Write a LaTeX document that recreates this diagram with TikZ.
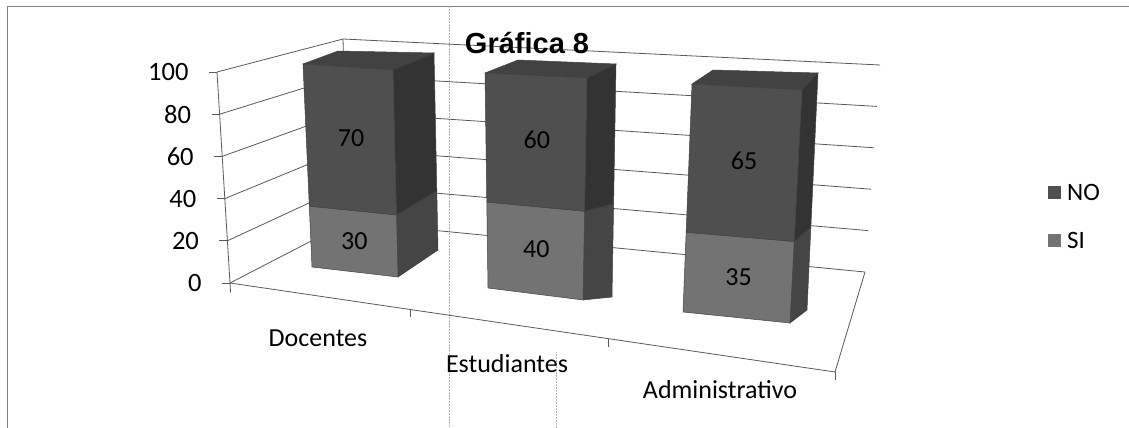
\documentclass[tikz,border=0pt]{standalone}
\usepackage{fontspec}
\setmainfont{Carlito}
\newfontfamily\titlefont{Liberation Sans}
\usetikzlibrary{calc}

\definecolor{nofront}{gray}{0.31}
\definecolor{noside}{gray}{0.20}
\definecolor{notop}{gray}{0.26}
\definecolor{sifront}{gray}{0.45}
\definecolor{siside}{gray}{0.27}
\definecolor{gridgray}{gray}{0.35}

\begin{document}
\begin{tikzpicture}[x=1pt, y=-1pt,
    wall/.style={draw=gridgray, line width=0.8pt},
    face/.style={draw=black!75, line width=0.5pt},
    ylab/.style={anchor=east, font=\fontsize{26.5}{30}\selectfont},
    catlab/.style={font=\fontsize{26}{30}\selectfont},
    datalab/.style={font=\fontsize{26}{28}\selectfont},
    leglab/.style={anchor=west, font=\fontsize{25}{28}\selectfont},
    legbox/.style={fill=#1, minimum size=13pt, inner sep=0pt}]
  \useasboundingbox (0,0) rectangle (1129,428);
  % frame and scan marks
  \draw[black!50, line width=0.8pt] (7,428) -- (7,6) -- (1129,6);
  \draw[black!30, densely dotted, line width=0.5pt] (449,6) -- (449,428);
  \draw[black!30, densely dotted, line width=0.5pt] (556,352) -- (556,428);
  % walls and floor
  \coordinate (flt) at (217,72);
  \coordinate (flb) at (230,283);
  \coordinate (blt) at (343,39);
  \coordinate (blb) at (348,222);
  \coordinate (brt) at (880,65);
  \coordinate (brb) at (865,272);
  \coordinate (frb) at (835,372);
  \draw[wall] (blb) -- (blt);
  \foreach \v/\t in {0/0, 0.2/20, 0.4/40, 0.6/60, 0.8/80, 1/100} {
    \draw[wall] ($(flb)!\v!(flt)$) -- ($(blb)!\v!(blt)$) -- ($(brb)!\v!(brt)$);
    \draw[wall] ($(flb)!\v!(flt)$) -- ++(-8,0);
    \node[ylab] (y\t) at ($(flb)!\v!(flt)+(-25,0)$) {\t};
  }
  \draw[wall] (flt) -- ($(flb)!-0.045!(flt)$);
  \draw[wall] (flb) -- (frb) -- (brb);
  \draw[wall] ($(flb)!0.2975!(frb)$) -- ++(0,8);
  \draw[wall] ($(flb)!0.626!(frb)$) -- ++(0,8);
  \draw[wall] (frb) -- ++(0,8);
  % bars
  \coordinate (b1-tl) at (303,64);
  \coordinate (b1-tr) at (393,70);
  \coordinate (b1-br) at (398,277);
  \coordinate (b1-bl) at (312,267);
  \coordinate (b1-btl) at (338,51);
  \coordinate (b1-btr) at (434,53);
  \coordinate (b1-bbr) at (438,250);
  \coordinate (b2-tl) at (485,73);
  \coordinate (b2-tr) at (587,78);
  \coordinate (b2-br) at (583,300);
  \coordinate (b2-bl) at (488,288);
  \coordinate (b2-btl) at (518,60);
  \coordinate (b2-btr) at (616,64);
  \coordinate (b2-bbr) at (612,297);
  \coordinate (b3-tl) at (692,84);
  \coordinate (b3-tr) at (802,90);
  \coordinate (b3-br) at (790,323);
  \coordinate (b3-bl) at (683,312);
  \coordinate (b3-btl) at (713,70);
  \coordinate (b3-btr) at (818,73);
  \coordinate (b3-bbr) at (807,310);
  \foreach \b/\s/\si/\no in {b1/0.30/30/70, b2/0.40/40/60, b3/0.35/35/65} {
    \coordinate (\b-ml) at ($(\b-bl)!\s!(\b-tl)$);
    \coordinate (\b-mr) at ($(\b-br)!\s!(\b-tr)$);
    \coordinate (\b-mbr) at ($(\b-bbr)!\s!(\b-btr)$);
    \filldraw[face, fill=notop] (\b-tl) -- (\b-tr) -- (\b-btr) -- (\b-btl) -- cycle;
    \filldraw[face, fill=siside] (\b-br) -- (\b-mr) -- (\b-mbr) -- (\b-bbr) -- cycle;
    \filldraw[face, fill=noside] (\b-mr) -- (\b-tr) -- (\b-btr) -- (\b-mbr) -- cycle;
    \filldraw[face, fill=sifront] (\b-bl) -- (\b-br) -- (\b-mr) -- (\b-ml) -- cycle;
    \filldraw[face, fill=nofront] (\b-ml) -- (\b-mr) -- (\b-tr) -- (\b-tl) -- cycle;
    \node[datalab] (\b-si) at ($(\b-bl)!0.5!(\b-mr)$) {\si};
    \node[datalab] (\b-no) at ($(\b-ml)!0.5!(\b-tr)$) {\no};
  }
  % categories
  \node[catlab] (docentes) at (318,338) {Docentes};
  \node[catlab] (estudiantes) at (507,364) {Estudiantes};
  \node[catlab] (administrativo) at (720,390) {Administrativo};
  % title
  \node[font=\titlefont\bfseries\fontsize{29}{32}\selectfont] (titulo) at (527,43) {Gráfica 8};
  % legend
  \node[legbox=nofront] (kno) at (1054,192) {};
  \node[leglab] (lno) at ([xshift=3pt]kno.east) {NO};
  \node[legbox=sifront] (ksi) at (1054,240) {};
  \node[leglab] (lsi) at ([xshift=3pt]ksi.east) {SI};
\end{tikzpicture}
\end{document}
